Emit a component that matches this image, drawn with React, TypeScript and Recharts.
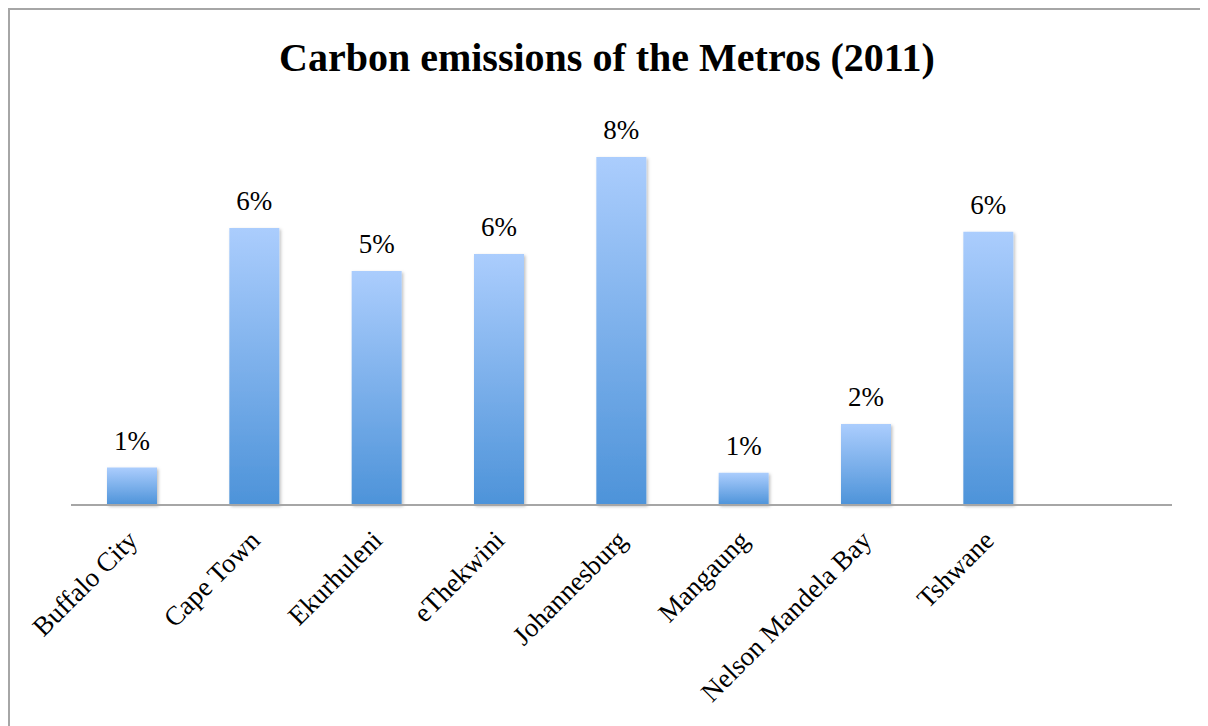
import React from "react";
import { BarChart, Bar, XAxis, YAxis, LabelList } from "recharts";

// Share of carbon emissions per metro, in percent
const metros = [
  "Buffalo City",
  "Cape Town",
  "Ekurhuleni",
  "eThekwini",
  "Johannesburg",
  "Mangaung",
  "Nelson Mandela Bay",
  "Tshwane",
  "",
];
const emissions = [0.86, 6.37, 5.38, 5.77, 8.0, 0.74, 1.86, 6.28, null];

const data = metros.map((name, i) => ({ name, value: emissions[i] }));

const FONT = '"Liberation Serif", "Times New Roman", serif';

const MetroTick = (props: any) => {
  const { x, y, payload } = props;
  if (!payload.value) return null;
  return (
    <text
      transform={`translate(${x + 7},${y + 29}) rotate(-45)`}
      textAnchor="end"
      fontFamily={FONT}
      fontSize={27}
      fill="#000"
    >
      {payload.value}
    </text>
  );
};

export default function App() {
  return (
    <div
      style={{
        width: 1194,
        height: 716,
        border: "2px solid #a6a6a6",
        borderBottom: "none",
        background: "#fff",
      }}
    >
      <BarChart
        width={1194}
        height={716}
        data={data}
        barSize={50}
        margin={{ top: 103.5, right: 32, bottom: 21, left: 61 }}
      >
        <defs>
          <linearGradient id="barFill" x1="0" y1="0" x2="0" y2="1">
            <stop offset="0%" stopColor="#abcdfd" />
            <stop offset="100%" stopColor="#4d93d9" />
          </linearGradient>
          <filter id="barShadow" x="-20%" y="-20%" width="140%" height="140%">
            <feDropShadow dx="1.5" dy="1.5" stdDeviation="1.5" floodColor="#000" floodOpacity="0.25" />
          </filter>
        </defs>
        <text
          x={597}
          y={61}
          textAnchor="middle"
          fontFamily={FONT}
          fontWeight="bold"
          fontSize={40}
          fill="#000"
        >
          Carbon emissions of the Metros (2011)
        </text>
        <XAxis
          dataKey="name"
          height={200}
          interval={0}
          tickLine={false}
          axisLine={{ stroke: "#a6a6a6", strokeWidth: 2 }}
          tick={<MetroTick />}
        />
        <YAxis hide domain={[0, 9]} />
        <Bar
          dataKey="value"
          fill="url(#barFill)"
          filter="url(#barShadow)"
          isAnimationActive={false}
        >
          <LabelList
            dataKey="value"
            position="top"
            offset={18}
            formatter={(v: any) => (v == null ? "" : `${Math.round(v)}%`)}
            style={{ fontFamily: FONT, fontSize: 27, fill: "#000" }}
          />
        </Bar>
      </BarChart>
    </div>
  );
}
